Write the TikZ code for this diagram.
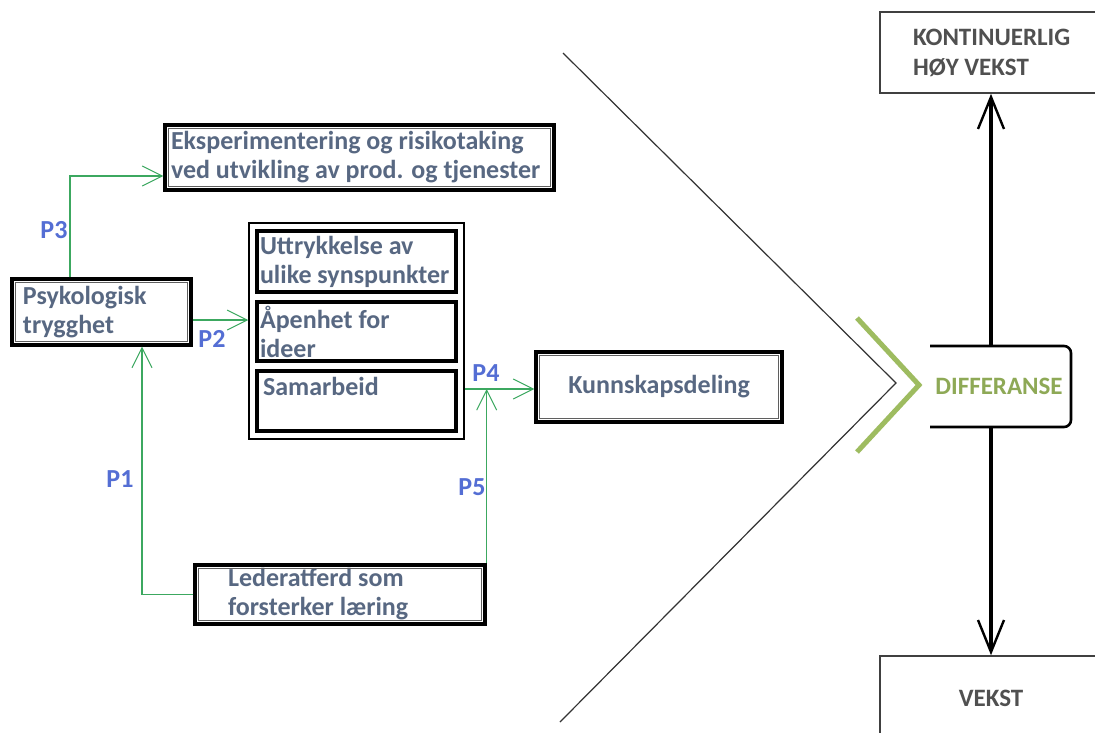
\documentclass[tikz,border=0pt]{standalone}
\usepackage{fontspec}
\setmainfont{Carlito}
\usetikzlibrary{arrows.meta,calc}
\definecolor{txt}{RGB}{88,104,130}
\definecolor{pblue}{RGB}{84,110,212}
\definecolor{cgreen}{RGB}{60,168,96}
\definecolor{olive}{RGB}{158,188,96}
\definecolor{dtxt}{RGB}{80,80,80}
\definecolor{igray}{RGB}{95,95,95}
\newcommand{\bx}{\bfseries\fontsize{26}{29}\selectfont}
\newcommand{\bxe}{\bfseries\fontsize{25}{30}\selectfont}
\tikzset{
  box/.style={draw=black, line width=3.4pt, fill=white, font=\bx, text=txt,
    align=flush left, inner ysep=0pt, anchor=center},
  grpbox/.style={draw=black, line width=1.5pt, fill=white, anchor=center},
  endbox/.style={draw=black!75, line width=1.6pt, fill=white, font=\bxe, text=dtxt,
    align=flush left, inner ysep=0pt, anchor=center},
  conn/.style={draw=cgreen, line width=1.3pt,
    -{Straight Barb[length=20pt,width=20pt,line width=1pt]}},
  bigarrow/.style={draw=black, line width=4pt,
    -{Straight Barb[length=32pt,width=26pt,line width=2.4pt]}},
  plabel/.style={font=\bx, text=pblue, inner sep=0pt},
  vline/.style={draw=black!80, line width=1.2pt},
  innerframe/.style={draw=igray, line width=1.1pt},
}
\begin{document}
\begin{tikzpicture}[x=1pt,y=-1pt]
\fill[white] (0,0) rectangle (1095,732);
\useasboundingbox (0,0) rectangle (1095,732);

% big V
\coordinate (vt) at (563,53);
\coordinate (vtip) at (896,383);
\coordinate (vb) at (560,722);
\draw[vline] (vt) -- (vtip) -- (vb);

% left boxes
\node[box, minimum width=389pt, minimum height=65pt, text width=377pt, inner xsep=6pt]
  (eks) at (359.5,157.5) {\mbox{Eksperimentering og risikotaking}\\\mbox{ved utvikling av prod. og tjenester}};
\node[box, minimum width=179pt, minimum height=66pt, text width=157pt, inner xsep=11pt]
  (psy) at (101.5,312) {Psykologisk\\trygghet};
\node[grpbox, minimum width=215pt, minimum height=216pt] (grp) at (356.5,331) {};
\node[box, minimum width=199pt, minimum height=61pt, text width=193pt, inner xsep=3pt]
  (utt) at (356.5,261.5) {Uttrykkelse av\\\mbox{ulike synspunkter}};
\node[box, minimum width=199pt, minimum height=59pt, text width=193pt, inner xsep=3pt]
  (ape) at (356.5,331.5) {Åpenhet for\\ideer};
\node[box, minimum width=199pt, minimum height=60pt, text width=187pt, inner xsep=6pt]
  (sam) at (356.5,401) {Samarbeid\\\phantom{X}};
\node[box, minimum width=246pt, minimum height=70pt, align=center]
  (kun) at (659,387) {Kunnskapsdeling};
\node[box, minimum width=290pt, minimum height=59pt, text width=224pt, inner xsep=33pt]
  (led) at (340,594.5) {Lederatferd som\\forsterker læring};

% inner grey lines of the double frames
\foreach \n in {eks,psy,kun,led}{
  \draw[innerframe] ($(\n.north west)+(5pt,-5pt)$) rectangle ($(\n.south east)+(-5pt,5pt)$);
}

% green connectors
\draw[conn] (70,0 |- psy.north) |- (eks.west |- 0,176);
\draw[conn] (psy.east |- 0,320) -- (grp.west |- 0,320);
\draw[conn] (grp.east |- 0,389) -- (kun.west |- 0,389);
\draw[conn] (led.north east) -- (led.north east |- 0,389);
\draw[conn] (led.west) -| (142,0 |- psy.south);

% P labels
\node[plabel] (p3) at (54,230) {P3};
\node[plabel] (p2) at (212,339) {P2};
\node[plabel] (p4) at (486,373) {P4};
\node[plabel] (p1) at (120,479) {P1};
\node[plabel] (p5) at (472,487) {P5};

% right side
\node[endbox, minimum width=222pt, minimum height=81pt, text width=156pt, inner xsep=33pt]
  (kont) at (991,52.5) {KONTINUERLIG\\HØY VEKST};
\node[endbox, minimum width=222pt, minimum height=84pt, align=center]
  (vek) at (991,698) {VEKST};

% chevron
\draw[olive, line width=5pt] (857,318) -- (919,385) -- (857,452);

% bracket
\draw[black, line width=2.6pt, rounded corners=7pt] (930,346) -- (1071,346) -- (1071,427) -- (930,427);
\node[font=\bxe, text=olive!90!black, inner sep=0pt] (dif) at (999,386) {DIFFERANSE};
\coordinate (bt) at (991,346);
\coordinate (bb) at (991,427);
\draw[bigarrow] (bt) -- (kont.south);
\draw[bigarrow] (bb) -- (vek.north);
\end{tikzpicture}
\end{document}
